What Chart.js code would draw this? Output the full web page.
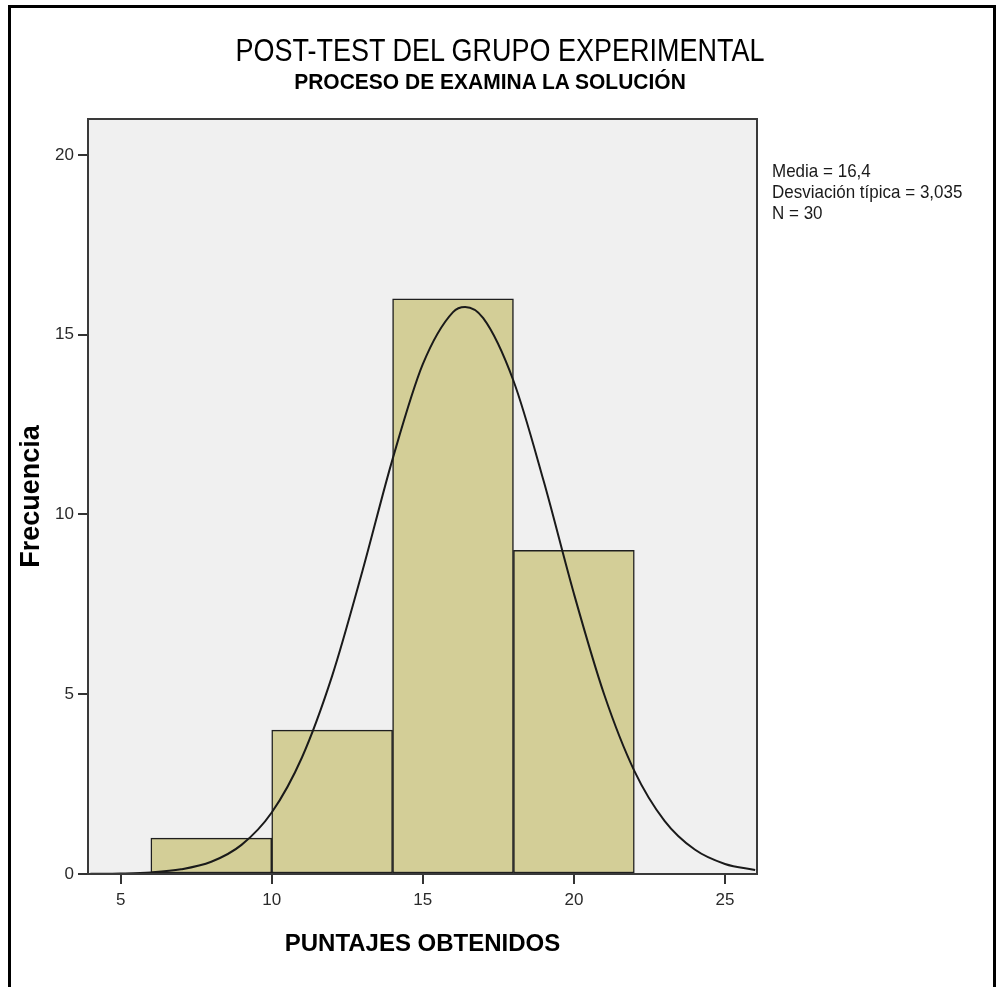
<!DOCTYPE html>
<html>
<head>
<meta charset="utf-8">
<script src="https://cdn.jsdelivr.net/npm/chart.js@4.4.1/dist/chart.umd.min.js"></script>
<style>
  html, body { margin: 0; padding: 0; background: #fff; }
  #wrap { position: relative; width: 1006px; height: 987px; overflow: hidden; font-family: "Liberation Sans", Arial, sans-serif; }
  #frame { position: absolute; left: 8px; top: 5px; width: 988px; height: 1010px; border: 3px solid #000; box-sizing: border-box; }
  #c { position: absolute; left: 0; top: 0; }
  .t { position: absolute; white-space: nowrap; text-align: center; color: #000; }
  #title { left: 0; width: 1000px; top: 38px; font-size: 27px; line-height: 27px; transform: scaleY(1.15); transform-origin: 50% 48%; }
  #subtitle { left: 0; width: 980px; top: 70px; font-size: 21px; line-height: 21px; font-weight: bold; transform: scaleY(1.08); transform-origin: 50% 48%; }
  #stats { position: absolute; left: 772px; top: 160px; font-size: 17px; line-height: 19px; color: #1a1a1a; white-space: nowrap; transform: scaleY(1.12); transform-origin: 0 0; }
</style>
</head>
<body>
<div id="wrap">
  <div id="frame"></div>
  <canvas id="c" width="1006" height="987"></canvas>
  <div id="title" class="t"></div>
  <div id="subtitle" class="t"></div>
  <div id="stats"></div>
</div>
<script>
// ---- data ----
const chartTitle = 'POST-TEST DEL GRUPO EXPERIMENTAL';
const chartSubtitle = 'PROCESO DE EXAMINA LA SOLUCIÓN';
const xAxisTitle = 'PUNTAJES OBTENIDOS';
const yAxisTitle = 'Frecuencia';
const statsLines = ['Media = 16,4', 'Desviación típica = 3,035', 'N = 30'];

const binStart = [6, 10, 14, 18];
const binEnd = [10, 14, 18, 22];
const frequencies = [1, 4, 16, 9];

// normal curve, values
const curveX = [4, 5, 6, 7, 8, 9, 10, 11, 12, 13, 14, 15, 16, 16.4, 17, 18, 19, 20, 21, 22, 23, 24, 25, 26];
const curveY = [0.004, 0.014, 0.044, 0.13, 0.34, 0.81, 1.71, 3.24, 5.51, 8.42, 11.54, 14.18, 15.63, 15.77, 15.46, 13.72, 10.93, 7.80, 5.00, 2.87, 1.48, 0.68, 0.28, 0.11];

const xTicks = [5, 10, 15, 20, 25];
const yTicks = [0, 5, 10, 15, 20];
const xRange = [3.92, 26.06];
const yRange = [0, 21];

// ---- text ----
document.getElementById('title').textContent = chartTitle;
document.getElementById('subtitle').textContent = chartSubtitle;
document.getElementById('stats').innerHTML = statsLines.map(s => '<div>' + s + '</div>').join('');

// ---- chart ----
const barData = binStart.map((s, i) => ({ x: (s + binEnd[i]) / 2, y: frequencies[i] }));
const curveData = curveX.map((x, i) => ({ x: x, y: curveY[i] }));

const plotArea = {
  id: 'plotArea',
  beforeDatasetsDraw(chart) {
    const { ctx, chartArea: a } = chart;
    ctx.save();
    ctx.fillStyle = '#f0f0f0';
    ctx.fillRect(a.left, a.top, a.right - a.left, a.bottom - a.top);
    ctx.restore();
  },
  afterDatasetsDraw(chart) {
    const { ctx, chartArea: a } = chart;
    ctx.save();
    ctx.strokeStyle = '#3a3a3a';
    ctx.lineWidth = 2;
    ctx.strokeRect(a.left, a.top, a.right - a.left, a.bottom - a.top);
    ctx.restore();
  }
};

const FONT = '"Liberation Sans", Arial, sans-serif';

new Chart(document.getElementById('c'), {
  type: 'bar',
  data: {
    datasets: [
      {
        type: 'line',
        data: curveData,
        borderColor: '#1a1a1a',
        borderWidth: 2,
        pointRadius: 0,
        cubicInterpolationMode: 'monotone',
        fill: false,
        order: 0
      },
      {
        type: 'bar',
        data: barData,
        backgroundColor: '#d3ce97',
        borderColor: '#1f1f1f',
        borderWidth: 1.5,
        borderSkipped: false,
        barPercentage: 1.0,
        categoryPercentage: 1.0,
        order: 1
      }
    ]
  },
  options: {
    responsive: false,
    animation: false,
    layout: { padding: { left: 0, top: 119, right: 249, bottom: 0 } },
    plugins: { legend: { display: false }, tooltip: { enabled: false }, title: { display: false } },
    scales: {
      x: {
        type: 'linear',
        offset: false,
        min: xRange[0],
        max: xRange[1],
        afterBuildTicks(scale) { scale.ticks = xTicks.map(v => ({ value: v })); },
        afterFit(scale) { scale.height = 113; },
        ticks: { color: '#2a2a2a', font: { family: FONT, size: 17 }, padding: 6, maxRotation: 0 },
        grid: { offset: false, drawOnChartArea: false, drawTicks: true, tickLength: 10, color: '#333', lineWidth: 2 },
        border: { display: false },
        title: { display: true, text: xAxisTitle, color: '#000', font: { family: FONT, size: 24, weight: 'bold' }, padding: { top: 0, bottom: 28 } }
      },
      y: {
        type: 'linear',
        min: yRange[0],
        max: yRange[1],
        afterBuildTicks(scale) { scale.ticks = yTicks.map(v => ({ value: v })); },
        afterFit(scale) { scale.width = 88; },
        ticks: { color: '#2a2a2a', font: { family: FONT, size: 17 }, padding: 4 },
        grid: { drawOnChartArea: false, drawTicks: true, tickLength: 10, color: '#333', lineWidth: 2 },
        border: { display: false },
        title: { display: true, text: yAxisTitle, color: '#000', font: { family: FONT, size: 27, weight: 'bold' }, padding: { top: 15, bottom: 0 } }
      }
    }
  },
  plugins: [plotArea]
});
</script>
</body>
</html>
